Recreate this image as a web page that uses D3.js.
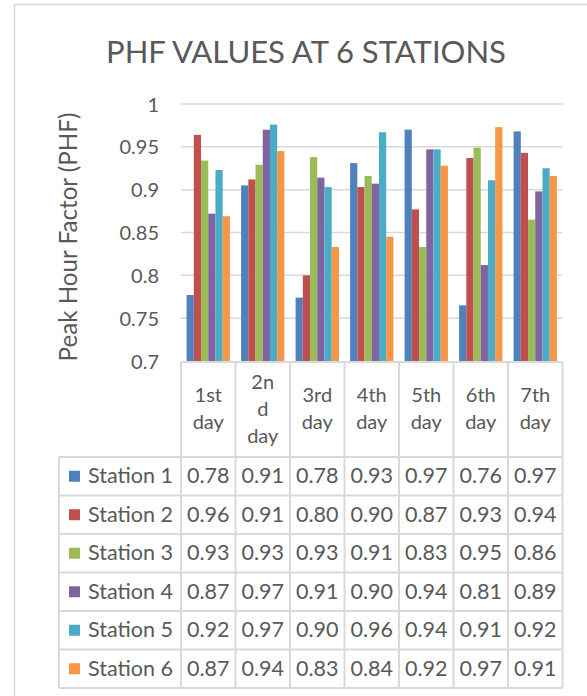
<!DOCTYPE html>
<html>
<head>
<meta charset="utf-8">
<script src="https://cdn.jsdelivr.net/npm/d3@7"></script>
<style>
  html, body { margin: 0; padding: 0; background: #fff; }
  svg { display: block; }
  text { font-family: Lato, "Open Sans", sans-serif; fill: #595959; }
</style>
</head>
<body>
<svg id="chart" width="587" height="696"></svg>
<script>
// ---- data ----
const title = "PHF VALUES AT 6 STATIONS";
const yAxisTitle = "Peak Hour Factor (PHF)";
const days = ["1st day", "2nd day", "3rd day", "4th day", "5th day", "6th day", "7th day"];
const dayLabelLines = [["1st", "day"], ["2n", "d", "day"], ["3rd", "day"], ["4th", "day"], ["5th", "day"], ["6th", "day"], ["7th", "day"]];
const stations = ["Station 1", "Station 2", "Station 3", "Station 4", "Station 5", "Station 6"];
const station1 = [0.777, 0.905, 0.774, 0.931, 0.970, 0.765, 0.968];
const station2 = [0.964, 0.912, 0.800, 0.903, 0.877, 0.937, 0.943];
const station3 = [0.934, 0.929, 0.938, 0.916, 0.833, 0.949, 0.865];
const station4 = [0.872, 0.970, 0.914, 0.907, 0.947, 0.812, 0.898];
const station5 = [0.923, 0.976, 0.903, 0.967, 0.947, 0.911, 0.925];
const station6 = [0.869, 0.945, 0.833, 0.845, 0.928, 0.973, 0.916];
const tableText1 = ["0.78", "0.91", "0.78", "0.93", "0.97", "0.76", "0.97"];
const tableText2 = ["0.96", "0.91", "0.80", "0.90", "0.87", "0.93", "0.94"];
const tableText3 = ["0.93", "0.93", "0.93", "0.91", "0.83", "0.95", "0.86"];
const tableText4 = ["0.87", "0.97", "0.91", "0.90", "0.94", "0.81", "0.89"];
const tableText5 = ["0.92", "0.97", "0.90", "0.96", "0.94", "0.91", "0.92"];
const tableText6 = ["0.87", "0.94", "0.83", "0.84", "0.92", "0.97", "0.91"];
const yTicks = [0.7, 0.75, 0.8, 0.85, 0.9, 0.95, 1];
const colors = ["#4F81BD", "#C0504D", "#9BBB59", "#8064A2", "#4BACC6", "#F79646"];

const seriesValues = [station1, station2, station3, station4, station5, station6];
const tableTexts = [tableText1, tableText2, tableText3, tableText4, tableText5, tableText6];

// ---- layout ----
const plotLeft = 181, plotRight = 562.5, plotTop = 104, plotBottom = 361;
const tableLeft = 59, headerBottom = 457, rowH = 38.5;
const gridColor = "#D9D9D9";

const svg = d3.select("#chart");

// outer chart border (left and top visible)
svg.append("rect").attr("x", 14.5).attr("y", 4.5).attr("width", 700).attr("height", 800)
  .attr("fill", "none").attr("stroke", gridColor).attr("stroke-width", 1.5);

function fitFont(sel, target) {
  sel.attr("font-size", 100);
  const w = sel.node().getComputedTextLength();
  sel.attr("font-size", 100 * target / w);
}

// title
const t = svg.append("text").attr("x", 306).attr("y", 63).attr("text-anchor", "middle").text(title);
fitFont(t, 400);

const y = d3.scaleLinear().domain([0.7, 1]).range([plotBottom, plotTop]);
const x = d3.scaleBand().domain(days).range([plotLeft, plotRight]).paddingInner(0).paddingOuter(0);
const xs = d3.scaleBand().domain(stations).range([0, x.bandwidth()]).paddingInner(0).paddingOuter(0.775);

// gridlines
svg.append("g").selectAll("line").data(yTicks.filter(d => d > 0.7)).join("line")
  .attr("x1", plotLeft).attr("x2", plotRight)
  .attr("y1", d => y(d)).attr("y2", d => y(d))
  .attr("stroke", gridColor).attr("stroke-width", 1.5);

// y axis via d3 axis (labels only)
const yAxis = svg.append("g").attr("transform", `translate(${plotLeft - 22},0)`)
  .call(d3.axisLeft(y).tickValues(yTicks).tickSize(0).tickPadding(0).tickFormat(d => d3.format("")(+d.toFixed(2))));
yAxis.select(".domain").remove();
yAxis.selectAll("text").attr("font-size", 20).attr("fill", "#595959")
  .style("font-family", "Lato, 'Open Sans', sans-serif").attr("dy", "0.35em").attr("x", 0);

// bars
const groups = svg.append("g").selectAll("g").data(stations).join("g").attr("fill", (d, i) => colors[i]);
groups.each(function(st, si) {
  d3.select(this).selectAll("rect").data(seriesValues[si]).join("rect")
    .attr("x", (v, di) => x(days[di]) + xs(st))
    .attr("width", xs.bandwidth())
    .attr("y", v => y(v))
    .attr("height", v => y(0.7) - y(v));
});

// y axis title
const yt = svg.append("text")
  .attr("transform", `translate(77,237) rotate(-90)`)
  .attr("text-anchor", "middle").text(yAxisTitle);
fitFont(yt, 249);

// ---- data table ----
const tableBottom = headerBottom + rowH * stations.length;
const tg = svg.append("g").attr("stroke", gridColor).attr("stroke-width", 2).attr("fill", "none");
// top line at axis
tg.append("line").attr("x1", plotLeft).attr("x2", plotRight).attr("y1", plotBottom + 1).attr("y2", plotBottom + 1);
// vertical column lines
const colEdges = days.map(d => x(d)).concat([plotRight]);
tg.selectAll(".v").data(colEdges).join("line")
  .attr("x1", d => d).attr("x2", d => d).attr("y1", plotBottom + 1).attr("y2", tableBottom);
// legend column left edge
tg.append("line").attr("x1", tableLeft).attr("x2", tableLeft).attr("y1", headerBottom).attr("y2", tableBottom);
// horizontal row lines
tg.selectAll(".h").data(d3.range(stations.length + 1)).join("line")
  .attr("x1", tableLeft).attr("x2", plotRight)
  .attr("y1", i => headerBottom + i * rowH).attr("y2", i => headerBottom + i * rowH);

// header labels
const lineH = 27;
days.forEach((d, di) => {
  const lines = dayLabelLines[di];
  const n = lines.length;
  lines.forEach((ln, li) => {
    svg.append("text").attr("x", x(d) + x.bandwidth() / 2)
      .attr("y", 415.5 + (li - (n - 1) / 2) * lineH)
      .attr("text-anchor", "middle").attr("font-size", 20).text(ln);
  });
});

// rows
stations.forEach((st, si) => {
  const cy = headerBottom + si * rowH + rowH / 2;
  svg.append("rect").attr("x", 69).attr("y", cy - 5.5).attr("width", 11).attr("height", 11).attr("fill", colors[si]);
  const lt = svg.append("text").attr("x", 88).attr("y", cy + 7).text(st);
  fitFont(lt, 85);
  days.forEach((d, di) => {
    svg.append("text").attr("x", x(d) + x.bandwidth() / 2).attr("y", cy + 7)
      .attr("text-anchor", "middle").attr("font-size", lt.attr("font-size")).text(tableTexts[si][di]);
  });
});
</script>
</body>
</html>
